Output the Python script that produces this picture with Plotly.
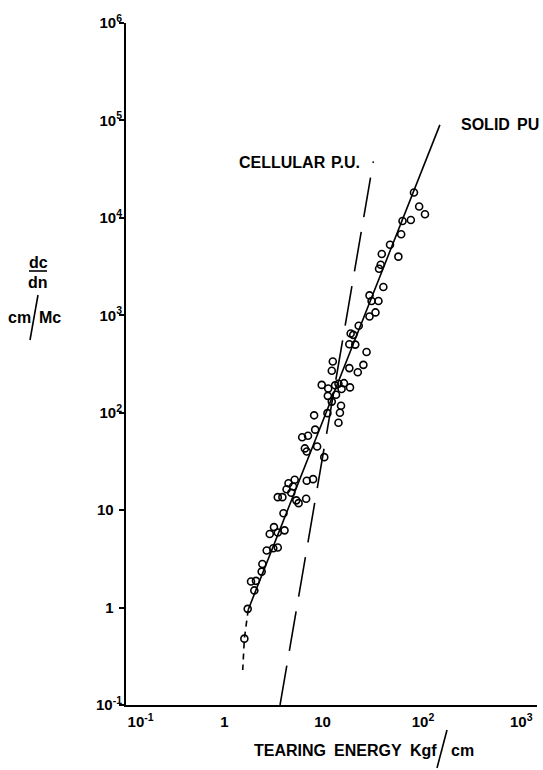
import plotly.graph_objects as go

# ---------------- data ----------------
tear_energy = [85, 96, 110, 65, 79, 63, 48.5, 40, 59, 39, 37.5, 41.5, 30, 31.5, 37,
               34.5, 30, 23.3, 19.3, 20.5, 18.7, 21.5, 28, 12.7, 26, 12.4, 18.7, 22.8,
               9.8, 11.4, 13.4, 16.5, 19, 14.5, 15.6, 11.3, 13.7, 12.4, 15.4, 15, 14.5,
               8.2, 11.2, 8.4, 6.2, 7.1, 6.6, 6.9, 8.8, 10.4, 6.9, 8.0, 4.5, 5.2, 5.0,
               4.3, 4.8, 3.5, 3.9, 5.4, 6.8, 5.7, 4.0, 3.2, 2.9, 3.5, 4.1, 2.7, 3.15,
               3.5, 2.44, 2.4, 1.87, 2.1, 2.02, 1.73, 1.6]
crack_rate = [18200, 13100, 10900, 9300, 9500, 6800, 5300, 4250, 4000, 3300, 3000, 1950,
              1600, 1400, 1400, 1070, 970, 780, 650, 630, 505, 500, 420, 335, 310, 270,
              287, 260, 193, 177, 191, 201, 182, 198, 175, 149, 153, 130, 118, 100, 79,
              94, 99, 67, 56, 58, 43, 40, 45, 35, 20, 20.8, 18.9, 20.5, 17.5, 16.4, 15.1,
              13.6, 13.6, 12.6, 13.1, 11.8, 9.3, 6.7, 5.7, 5.9, 6.2, 3.85, 4.07, 4.13,
              2.8, 2.34, 1.85, 1.88, 1.5, 0.97, 0.48]

solid_fit_x = [1.75, 156]
solid_fit_y = [0.95, 90000]
solid_tail_x = [1.75, 1.6, 1.54]
solid_tail_y = [0.95, 0.48, 0.229]
cellular_x = [3.69, 32.8]
cellular_y = [0.1, 37900]

NB = "&nbsp;"
x_tickvals = [0.1, 1, 10, 100, 1000]
x_ticktext = [NB * 7 + "10<sup>-1</sup>", "1", "10", NB + "10<sup>2</sup>", NB + "10<sup>3</sup>"]
y_tickvals = [0.1, 1, 10, 100, 1000, 1e4, 1e5, 1e6]
y_ticktext = ["10<sup>-1</sup>", "1" + NB * 2, "10" + NB * 2, "10<sup>2</sup>", "10<sup>3</sup>",
              "10<sup>4</sup>", "10<sup>5</sup>", "10<sup>6</sup>"]

# ---------------- layout helpers ----------------
W, H = 543, 770
ML, MR, MT, MB = 126, 6, 23, 65
PW, PH = W - ML - MR, H - MT - MB
DEC_X = 98.3


def px(x):
    return (x - ML) / PW


def py(y):
    return (H - MB - y) / PH


FONT = "Liberation Sans, Arial, sans-serif"

fig = go.Figure()
fig.add_trace(go.Scatter(x=cellular_x, y=cellular_y, mode="lines",
                         line=dict(color="black", width=1.6, dash="40px,15px"),
                         showlegend=False, hoverinfo="skip"))
fig.add_trace(go.Scatter(x=solid_fit_x, y=solid_fit_y, mode="lines",
                         line=dict(color="black", width=1.6),
                         showlegend=False, hoverinfo="skip"))
fig.add_trace(go.Scatter(x=solid_tail_x, y=solid_tail_y, mode="lines",
                         line=dict(color="black", width=1.6, dash="6px,5px"),
                         showlegend=False, hoverinfo="skip"))
fig.add_trace(go.Scatter(x=tear_energy, y=crack_rate, mode="markers",
                         marker=dict(symbol="circle-open", size=7, color="black",
                                     line=dict(width=1.6, color="black")),
                         showlegend=False))

fig.update_xaxes(type="log", range=[-1, -1 + PW / DEC_X], showgrid=False, zeroline=False,
                 showline=True, linecolor="black", linewidth=2, ticks="",
                 tickmode="array", tickvals=x_tickvals, ticktext=x_ticktext,
                 tickfont=dict(family=FONT, size=15, color="black", weight="bold"),
                 ticklabelstandoff=2)
fig.update_yaxes(type="log", range=[-1, 6], showgrid=False, zeroline=False,
                 showline=True, linecolor="black", linewidth=2, ticks="outside",
                 ticklen=5, tickwidth=2, tickcolor="black",
                 tickmode="array", tickvals=y_tickvals, ticktext=y_ticktext,
                 tickfont=dict(family=FONT, size=15, color="black", weight="bold"),
                 ticklabelstandoff=-6)

ann_font = dict(family=FONT, size=16, color="black", weight="bold")
anns = [
    ("TEARING", 252, 750, "left"),
    ("ENERGY", 332, 750, "left"),
    ("Kgf", 408, 750, "left"),
    ("cm", 449, 750, "left"),
    ("CELLULAR", 237, 162, "left"),
    ("P.U.", 329, 162, "left"),
    ("SOLID", 459, 125, "left"),
    ("PU", 515, 125, "left"),
    ("dc", 38, 262, "center"),
    ("dn", 38, 282, "center"),
    ("cm", 19, 318, "center"),
    ("Mc", 50, 318, "center"),
]
for text, x, y, anchor in anns:
    fig.add_annotation(text=text, x=px(x), y=py(y), xref="paper", yref="paper",
                       xanchor=anchor, yanchor="middle", showarrow=False, font=ann_font)

line_style = dict(color="black", width=1.6)
fig.add_shape(type="line", xref="paper", yref="paper", x0=px(447), y0=py(730),
              x1=px(437), y1=py(768), line=line_style)
fig.add_shape(type="line", xref="paper", yref="paper", x0=px(29), y0=py(271),
              x1=px(47), y1=py(271), line=line_style)
fig.add_shape(type="line", xref="paper", yref="paper", x0=px(38), y0=py(295),
              x1=px(30), y1=py(340), line=line_style)

fig.update_layout(width=W, height=H, margin=dict(l=ML, r=MR, t=MT, b=MB),
                  plot_bgcolor="white", paper_bgcolor="white")
fig.write_html("out.html")
